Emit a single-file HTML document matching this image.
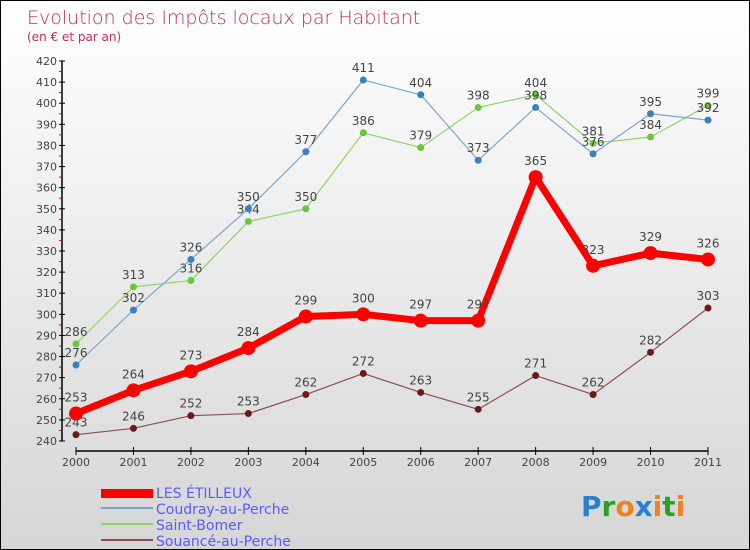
<!DOCTYPE html>
<html><head><meta charset="utf-8"><style>
body{margin:0}
#c{width:750px;height:550px;position:relative;box-sizing:border-box;border:1px solid #000;background:linear-gradient(#ffffff,#d6d6d6);font-family:"DejaVu Sans","Liberation Sans",sans-serif;overflow:hidden}
</style></head><body>
<div id="c">
<svg id="s" width="750" height="550" style="position:absolute;left:0;top:0" font-family="DejaVu Sans, Liberation Sans, sans-serif">
<text x="26" y="23" font-size="19" fill="#c0305a" font-weight="200">Evolution des Impôts locaux par Habitant</text>
<text x="26" y="40" font-size="12" fill="#c0305a">(en € et par an)</text>
<g id="g"></g>
<g>
<rect x="100" y="488" width="52" height="9" fill="#f00"/>
<line x1="100" y1="507" x2="152" y2="507" stroke="#7ba6cd" stroke-width="2"/>
<line x1="100" y1="523" x2="152" y2="523" stroke="#8fd46a" stroke-width="2"/>
<line x1="100" y1="539" x2="152" y2="539" stroke="#8a5050" stroke-width="2"/>
<g font-size="14" fill="#5a5aff">
<text x="155" y="497">LES ÉTILLEUX</text>
<text x="155" y="513">Coudray-au-Perche</text>
<text x="155" y="529">Saint-Bomer</text>
<text x="155" y="545">Souancé-au-Perche</text>
</g></g>
<text x="580" y="515" font-size="28" font-weight="bold"><tspan fill="#2a7fd0">P</tspan><tspan fill="#2aa02a">r</tspan><tspan fill="#f08020">o</tspan><tspan fill="#2a7fd0">x</tspan><tspan fill="#f08020">i</tspan><tspan fill="#2aa02a">t</tspan><tspan fill="#f08020">i</tspan></text>
</svg></div>
<script>
const years=[2000,2001,2002,2003,2004,2005,2006,2007,2008,2009,2010,2011];
const yTicks=[240,250,260,270,280,290,300,310,320,330,340,350,360,370,380,390,400,410,420];
const etilleux=[253,264,273,284,299,300,297,297,365,323,329,326];
const coudray=[276,302,326,350,377,411,404,373,398,376,395,392];
const bomer=[286,313,316,344,350,386,379,398,404,381,384,399];
const souance=[243,246,252,253,262,272,263,255,271,262,282,303];
const NS="http://www.w3.org/2000/svg";
const g=document.getElementById('g');
const X=i=>75+i*(707-75)/(years.length-1);
const Y=v=>440-(v-240)*(380/180);
function mk(t,a){const e=document.createElementNS(NS,t);for(const k in a)e.setAttribute(k,a[k]);g.appendChild(e);return e;}
let e=mk('line',{x1:61,y1:Y(420),x2:61,y2:Y(240),stroke:'#000','stroke-width':1.5});


e=mk('line',{x1:75,y1:450,x2:707,y2:450,stroke:'#000','stroke-width':1.5});


yTicks.forEach((t,i)=>{
 const tk=mk('line',{x1:58,x2:64,y1:Y(t),y2:Y(t),stroke:'#000'});
 
 
 if(i<yTicks.length-1){const m=mk('line',{x1:58,x2:61,y1:Y(t+5),y2:Y(t+5),stroke:'#e00'});
 
 }
 const l=mk('text',{x:56,y:Y(t)+4,'font-size':11,'text-anchor':'end',fill:'#444'});l.textContent=t;
 
 
});
years.forEach((y,i)=>{
 const tk=mk('line',{x1:X(i),x2:X(i),y1:446,y2:454,stroke:'#000'});
 
 
 const l=mk('text',{x:X(i),y:465,'font-size':11,'text-anchor':'middle',fill:'#444'});l.textContent=y;
 
 
});
function series(d,name,col,w,r,dot){
 const p=mk('polyline',{points:d.map((v,i)=>X(i)+','+Y(v)).join(' '),fill:'none',stroke:col,'stroke-width':w,'stroke-linejoin':'round'});
 
 
 d.forEach((v,i)=>{
  const c=mk('circle',{cx:X(i),cy:Y(v),r:r,fill:dot});
  
  
  const t=mk('text',{x:X(i),y:Y(v)-8-(r>5?4:0),'font-size':12,'text-anchor':'middle',fill:'#444'});t.textContent=v;
  
  
 });
}
series(souance,'souance','#8a5050',1.2,3.5,'#6a1a1a');
series(bomer,'saint-bomer','#8fd46a',1.2,3.5,'#6cc63c');
series(coudray,'coudray','#7ba6cd',1.2,3.5,'#3a80c0');
series(etilleux,'etilleux','#f00',7,7,'#f00');
</script>
</body></html>
